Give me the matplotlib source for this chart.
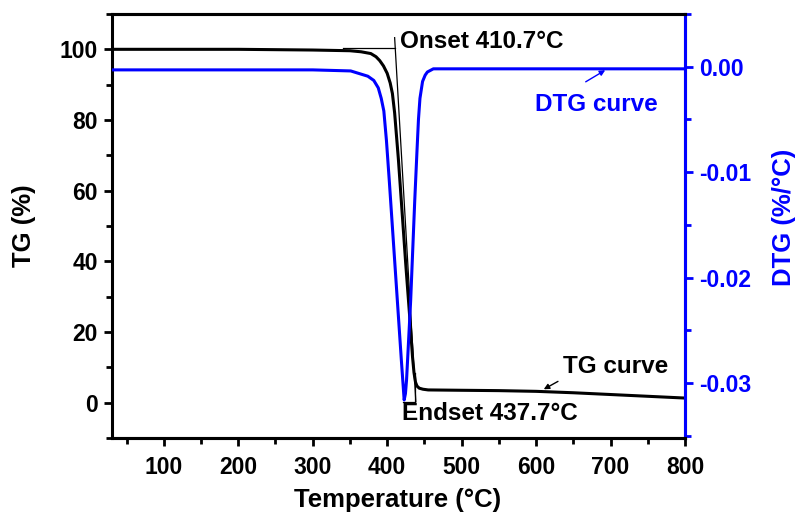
import numpy as np
import matplotlib
matplotlib.use("Agg")
from matplotlib import pyplot as plt
from matplotlib.ticker import MultipleLocator

plt.rcParams['font.family'] = ['Liberation Sans', 'DejaVu Sans']
plt.rcParams['font.weight'] = 'bold'
plt.rcParams['axes.unicode_minus'] = False

# TG curve (temperature in C, mass %)
temp_tg = [30, 100, 200, 300, 350, 365, 378, 385, 390, 395, 400, 404, 407, 410, 415, 420,
           425, 430, 434, 436, 438, 440, 443, 448, 455, 500, 550, 600, 650, 700, 750, 800]
tg = [100.0, 100.0, 100.0, 99.8, 99.6, 99.3, 98.8, 97.9, 96.8, 95.3, 93.2, 90.5, 87.5, 82.0,
      69.0, 54.0, 39.0, 25.0, 13.0, 8.5, 5.8, 4.7, 4.1, 3.8, 3.6, 3.5, 3.4, 3.2, 2.8, 2.3,
      1.8, 1.3]

# DTG curve (%/C)
temp_dtg = [30, 100, 200, 300, 351, 374, 382, 388, 392, 395.5, 399, 403, 407, 411, 415,
            419, 422.8, 424.5, 426, 431.5, 437, 440, 442, 444, 447.5, 451, 454, 462,
            500, 600, 700, 800]
dtg = [-0.0003, -0.0003, -0.0003, -0.0003, -0.0004, -0.0009, -0.0013, -0.0020, -0.0030,
       -0.0042, -0.0070, -0.0110, -0.0152, -0.0194, -0.0236, -0.0278, -0.0316, -0.0310,
       -0.0297, -0.0222, -0.0127, -0.0080, -0.0050, -0.0030, -0.0014, -0.0008, -0.0005,
       -0.0002, -0.0002, -0.0002, -0.0002, -0.0002]

onset_t = 410.7
endset_t = 437.7

x_ticks = [100, 200, 300, 400, 500, 600, 700, 800]
tg_ticks = [0, 20, 40, 60, 80, 100]
dtg_ticks = [0.0, -0.01, -0.02, -0.03]
dtg_labels = ['0.00', '-0.01', '-0.02', '-0.03']

blue = '#0000ff'

fig = plt.figure(figsize=(7.96, 5.16), dpi=100)
ax = fig.add_axes([0.1403, 0.1512, 0.7203, 0.8217])
ax2 = ax.twinx()

ax.plot(temp_tg, tg, color='black', lw=2.2)
ax2.plot(temp_dtg, dtg, color=blue, lw=2.2)

# onset / endset construction lines
ax.plot([340, onset_t], [100.3, 100.3], color='black', lw=0.9)
ax.plot([410.0, 438.5], [103.3, 0.2], color='black', lw=0.9)
ax.plot([421, endset_t, endset_t], [0.2, 0.2, 8.5], color='black', lw=0.9)

ax.set_xlim(30, 800)
ax.set_ylim(-10, 110)
ax2.set_ylim(-0.0352, 0.005)

ax.set_xticks(x_ticks)
ax.set_yticks(tg_ticks)
ax.xaxis.set_minor_locator(MultipleLocator(50))
ax.yaxis.set_minor_locator(MultipleLocator(10))
ax2.set_yticks(dtg_ticks)
ax2.set_yticklabels(dtg_labels)
ax2.yaxis.set_minor_locator(MultipleLocator(0.005))

for a in (ax, ax2):
    for s in a.spines.values():
        s.set_linewidth(2.2)
ax2.spines['right'].set_color(blue)
ax2.spines['left'].set_visible(False)

ax.tick_params(axis='both', which='major', length=6, width=2, labelsize=16.5, pad=4)
ax.tick_params(axis='both', which='minor', length=4, width=2)
ax.tick_params(axis='x', pad=7)
ax2.tick_params(axis='y', which='major', length=6, width=2, labelsize=16.5, pad=4,
                colors=blue)
ax2.tick_params(axis='y', which='minor', length=4, width=2, colors=blue)

ax.set_xlabel('Temperature (°C)', fontsize=18.5, fontweight='bold')
ax.set_ylabel('TG (%)', fontsize=18.5, fontweight='bold')
ax2.set_ylabel('DTG (%/°C)', fontsize=18.5, fontweight='bold', color=blue)
ax.xaxis.set_label_coords(0.499, -0.118)
ax.yaxis.set_label_coords(-0.132, 0.5)
ax2.yaxis.set_label_coords(1.152, 0.52)

# annotations
ax.text(416.8, 102.1, 'Onset 410.7°C', fontsize=17.5, fontweight='bold',
        ha='left', va='center')
ax.text(420.4, -3.2, 'Endset 437.7°C', fontsize=17.5, fontweight='bold',
        ha='left', va='center')
ax.text(636.6, 10.1, 'TG curve', fontsize=17.5, fontweight='bold',
        ha='left', va='center')
ax.text(599, 84.4, 'DTG curve', fontsize=17.5, fontweight='bold',
        ha='left', va='center', color=blue)

ax.annotate('', xy=(696, 94.5), xytext=(663.4, 90.4),
            arrowprops=dict(arrowstyle='-|>', color=blue, lw=1, mutation_scale=8))
ax.annotate('', xy=(607, 3.4), xytext=(632.6, 6.4),
            arrowprops=dict(arrowstyle='-|>', color='black', lw=1, mutation_scale=8))

fig.savefig('out.png', dpi=100)
